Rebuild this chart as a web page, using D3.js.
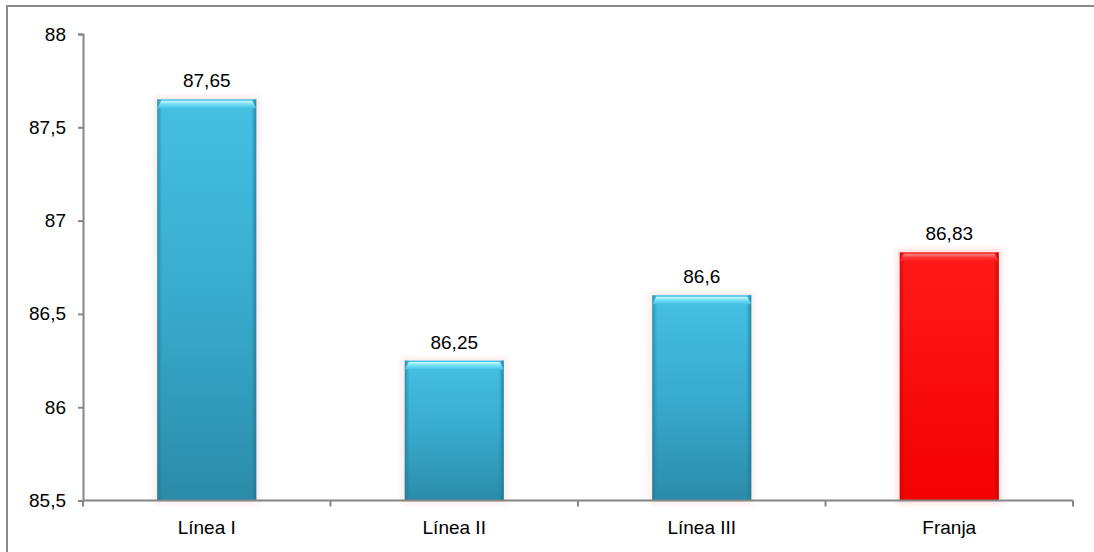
<!DOCTYPE html>
<html>
<head>
<meta charset="utf-8">
<script src="https://cdn.jsdelivr.net/npm/d3@7"></script>
<style>
  html, body { margin: 0; padding: 0; background: #fff; }
  svg { display: block; }
  text { font-family: "Liberation Sans", Arial, sans-serif; fill: #000; }
</style>
</head>
<body>
<svg id="chart" width="1094" height="552"></svg>
<script>
// Categories and values
const categories = ["Línea I", "Línea II", "Línea III", "Franja"];
const values = [87.65, 86.25, 86.6, 86.83];
const valueLabels = ["87,65", "86,25", "86,6", "86,83"];
const yTicks = [85.5, 86, 86.5, 87, 87.5, 88];
const yTickLabels = ["85,5", "86", "86,5", "87", "87,5", "88"];
const highlighted = ["Franja"];

const W = 1094, H = 552;
const FONT = 19;
const margin = { left: 83, right: 21, top: 34, bottom: 51.5 };
const svg = d3.select("#chart");

const x = d3.scaleBand()
  .domain(categories)
  .range([margin.left, W - margin.right])
  .paddingInner(0.6)
  .paddingOuter(0.3);
const y = d3.scaleLinear()
  .domain([85.5, 88])
  .range([H - margin.bottom, margin.top]);

const band = d3.scaleBand().domain(categories).range([margin.left, W - margin.right]);

// Chart frame
svg.append("rect")
  .attr("x", 7).attr("y", 6)
  .attr("width", W + 10).attr("height", H + 10)
  .attr("fill", "none").attr("stroke", "#8c8c8c").attr("stroke-width", 2);

const defs = svg.append("defs");
function vgrad(id, stops) {
  const g = defs.append("linearGradient").attr("id", id)
    .attr("x1", 0).attr("y1", 0).attr("x2", 0).attr("y2", 1);
  stops.forEach(s => g.append("stop").attr("offset", s[0]).attr("stop-color", s[1]));
}
function hgrad(id, stops) {
  const g = defs.append("linearGradient").attr("id", id)
    .attr("x1", 0).attr("y1", 0).attr("x2", 1).attr("y2", 0);
  stops.forEach(s => g.append("stop").attr("offset", s[0]).attr("stop-color", s[1]).attr("stop-opacity", s[2] === undefined ? 1 : s[2]));
}
vgrad("blueBody", [[0, "#45c0e3"], [0.5, "#38abce"], [1, "#2b8ba8"]]);
vgrad("blueTop", [[0, "#d0f8fe"], [0.45, "#72e0f5"], [1, "#45c0e3"]]);
hgrad("blueSide", [[0, "#1f7590", 0.6], [0.05, "#1f7590", 0], [0.95, "#1f7590", 0], [1, "#1f7590", 0.75]]);
vgrad("redBody", [[0, "#ff1a1a"], [1, "#f50000"]]);
vgrad("redTop", [[0, "#ff8a8a"], [0.5, "#ff3535"], [1, "#ff1a1a"]]);
hgrad("redSide", [[0, "#b00000", 0.5], [0.05, "#b00000", 0], [0.95, "#b00000", 0], [1, "#b00000", 0.65]]);

const blur = defs.append("filter").attr("id", "glow")
  .attr("x", "-20%").attr("y", "-20%").attr("width", "140%").attr("height", "140%");
blur.append("feGaussianBlur").attr("stdDeviation", 3);

const bars = svg.append("g").selectAll("g").data(categories).join("g");
bars.each(function (c, i) {
  const g = d3.select(this);
  const red = highlighted.includes(c);
  const bx = x(c), bw = x.bandwidth();
  const by = y(values[i]), bh = y(85.5) - y(values[i]);
  // soft halo
  g.append("rect").attr("x", bx - 3).attr("y", by - 3).attr("width", bw + 6).attr("height", bh + 6)
    .attr("fill", red ? "#ffd0d0" : "#f5e0e0").attr("opacity", 0.7).attr("filter", "url(#glow)");
  g.append("rect").attr("x", bx).attr("y", by).attr("width", bw).attr("height", bh)
    .attr("fill", red ? "url(#redBody)" : "url(#blueBody)");
  g.append("rect").attr("x", bx).attr("y", by).attr("width", bw).attr("height", bh)
    .attr("fill", red ? "url(#redSide)" : "url(#blueSide)");
  // bevelled top edge
  g.append("path")
    .attr("d", `M${bx},${by + 9} L${bx + 4},${by + 1.5} L${bx + bw - 4},${by + 1.5} L${bx + bw},${by + 9} Z`)
    .attr("fill", red ? "url(#redTop)" : "url(#blueTop)");
  g.append("text")
    .attr("x", bx + bw / 2).attr("y", by - 12)
    .attr("text-anchor", "middle").attr("font-size", FONT)
    .text(valueLabels[i]);
});

// Y axis
const yAxis = d3.axisLeft(y).tickValues(yTicks)
  .tickFormat((d, i) => yTickLabels[i]).tickSize(5).tickPadding(12);
const gy = svg.append("g").attr("transform", `translate(${margin.left},0)`).call(yAxis);
gy.select(".domain").attr("stroke", "#868686").attr("stroke-width", 2);
gy.selectAll(".tick line").attr("stroke", "#868686").attr("stroke-width", 2);
gy.selectAll(".tick text").attr("font-size", FONT).attr("font-family", "Liberation Sans, Arial, sans-serif").attr("fill", "#000");

// X axis with category boundary ticks
const gx = svg.append("g").attr("transform", `translate(0,${y(85.5)})`);
gx.append("line").attr("x1", margin.left).attr("x2", W - margin.right)
  .attr("stroke", "#868686").attr("stroke-width", 2);
const bounds = categories.map(c => band(c)).concat([W - margin.right]);
gx.selectAll("line.b").data(bounds).join("line").attr("class", "b")
  .attr("x1", d => d).attr("x2", d => d).attr("y1", 0).attr("y2", 6)
  .attr("stroke", "#868686").attr("stroke-width", 2);
gx.selectAll("text").data(categories).join("text")
  .attr("x", c => band(c) + band.bandwidth() / 2).attr("y", 33)
  .attr("text-anchor", "middle").attr("font-size", FONT)
  .text(c => c);
</script>
</body>
</html>
